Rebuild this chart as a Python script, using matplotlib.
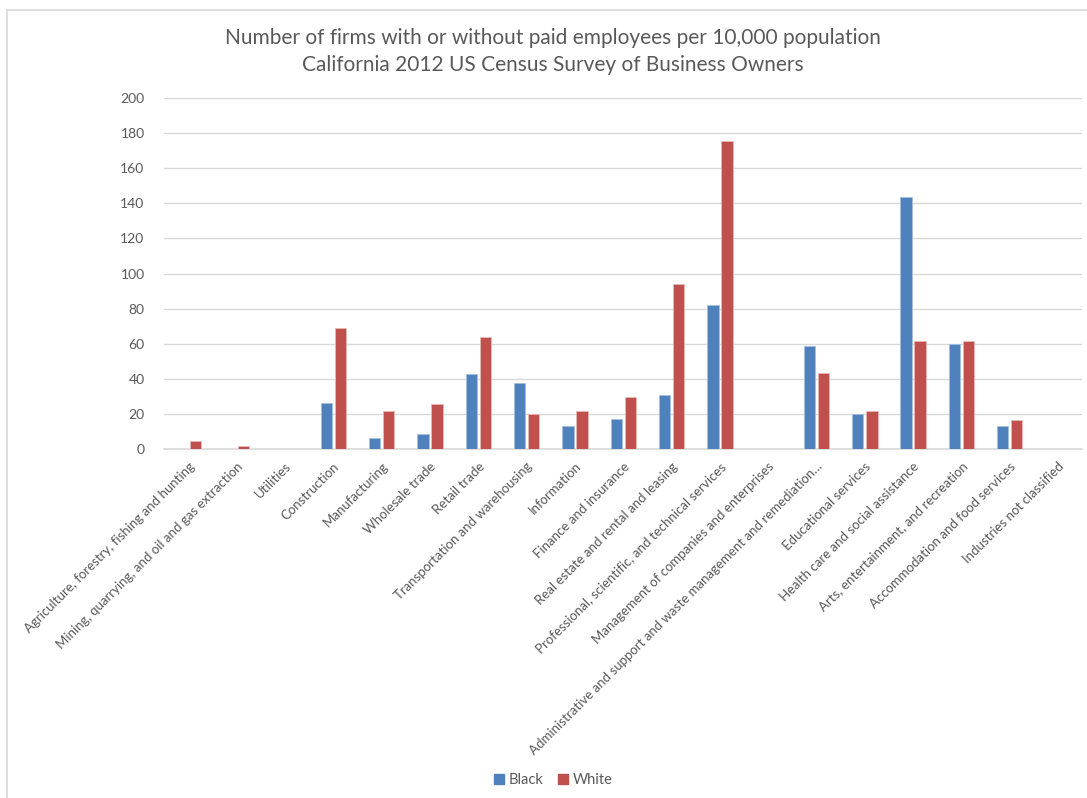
import matplotlib
matplotlib.use("Agg")
import matplotlib.pyplot as plt
from matplotlib.patches import Patch, Rectangle
import numpy as np

plt.rcParams['font.family'] = ['Lato', 'DejaVu Sans']

# data
industries = [
    "Agriculture, forestry, fishing and hunting",
    "Mining, quarrying, and oil and gas extraction",
    "Utilities",
    "Construction",
    "Manufacturing",
    "Wholesale trade",
    "Retail trade",
    "Transportation and warehousing",
    "Information",
    "Finance and insurance",
    "Real estate and rental and leasing",
    "Professional, scientific, and technical services",
    "Management of companies and enterprises",
    "Administrative and support and waste management and remediation\u2026",
    "Educational services",
    "Health care and social assistance",
    "Arts, entertainment, and recreation",
    "Accommodation and food services",
    "Industries not classified",
]
black = [0, 0, 0, 26.5, 6.5, 8.3, 43.0, 37.5, 13.0, 17.0, 31.0, 82.3, 0, 58.5, 19.8, 143.8, 60.0, 12.9, 0]
white = [4.4, 1.7, 0, 68.7, 21.8, 25.6, 64.1, 20.0, 21.8, 29.6, 93.8, 175.6, 0, 43.1, 21.4, 61.3, 61.3, 16.8, 0]
yticks = [0, 20, 40, 60, 80, 100, 120, 140, 160, 180, 200]

blue_c = "#4F81BD"
red_c = "#C0504D"
grid_c = "#D9D9D9"
text_c = "#595959"

fig = plt.figure(figsize=(10.87, 7.98), dpi=100)
ax = fig.add_axes([0.1509, 0.4373, 0.8445, 0.4399])

# chart border like the Excel chart area
fig.patches.append(Rectangle((7 / 1087, -0.1), 1.2, 1 - 10 / 798 + 0.1,
                             transform=fig.transFigure, fill=False,
                             edgecolor=grid_c, linewidth=1.2))

x = np.arange(len(industries))
w = 0.235
ax.bar(x - 0.14, black, width=w, color=blue_c, edgecolor="#A7BFDE", linewidth=0.6, zorder=3)
ax.bar(x + 0.15, white, width=w, color=red_c, edgecolor="#E6B9B8", linewidth=0.6, zorder=3)

ax.set_xlim(-0.5, len(industries) - 0.5)
ax.set_ylim(0, 200)
ax.set_yticks(yticks)
ax.set_yticklabels([str(v) for v in yticks], color=text_c, fontsize=10)
ax.yaxis.grid(True, color=grid_c, linewidth=1, zorder=0)
ax.set_axisbelow(True)

ax.set_xticks(x)
ax.set_xticklabels(industries, rotation=45, ha="right", rotation_mode="anchor",
                   color=text_c, fontsize=9.5)
ax.tick_params(axis="both", length=0)
ax.tick_params(axis="y", pad=14)
ax.tick_params(axis="x", pad=8)

for s in ["top", "right", "left"]:
    ax.spines[s].set_visible(False)
ax.spines["bottom"].set_color(grid_c)
ax.spines["bottom"].set_linewidth(1.2)

fig.text(553 / 1087, 1 - 38 / 798,
         "Number of firms with or without paid employees per 10,000 population",
         ha="center", va="center", fontsize=15, color=text_c)
fig.text(553 / 1087, 1 - 65 / 798,
         "California 2012 US Census Survey of Business Owners",
         ha="center", va="center", fontsize=15, color=text_c)

handles = [Patch(color=blue_c, label="Black"), Patch(color=red_c, label="White")]
fig.legend(handles=handles, loc="center", bbox_to_anchor=(553 / 1087, 1 - 780 / 798),
           ncol=2, frameon=False, fontsize=10.5, handlelength=0.7, handleheight=0.7,
           handletextpad=0.3, columnspacing=1.0, labelcolor=text_c)

fig.savefig("out.png", dpi=100)
